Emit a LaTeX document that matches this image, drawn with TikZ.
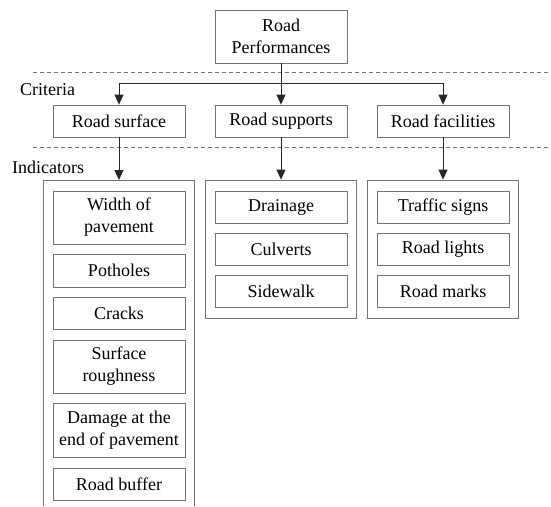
\documentclass[tikz,border=0pt]{standalone}
\usepackage{fontspec}
\setmainfont{Liberation Serif}
\usetikzlibrary{arrows.meta}
\tikzset{
 mytext/.style={font=\fontsize{18}{22}\selectfont},
 mybox/.style={mytext,draw=black!55,line width=0.8pt,minimum width=132pt,inner sep=0pt,align=center},
 mygroup/.style={draw=black!55,line width=0.8pt,minimum width=151pt,inner sep=0pt},
 myarrow/.style={draw=black!85,line width=0.8pt,-{Triangle[length=10pt,width=9pt]}},
 mydash/.style={draw=black!55,line width=0.8pt,dash pattern=on 4pt off 3pt}
}
\begin{document}
\begin{tikzpicture}[x=1pt,y=-1pt]
 \useasboundingbox (0,0) rectangle (551,506);
 % levels
 \draw[mydash] (33,72) -- (551,72);
 \draw[mydash] (33,147) -- (551,147);
 \node[mytext,anchor=west,inner sep=0pt] (crit) at (20,90) {Criteria};
 \node[mytext,anchor=west,inner sep=0pt] (ind) at (12,167) {Indicators};
 % goal and criteria
 \node[mybox,minimum height=53pt] (perf) at (281,36.5) {Road\\Performances};
 \node[mybox,minimum height=32pt] (surf) at (119,121) {Road surface};
 \node[mybox,minimum height=32pt] (sup) at (281,121) {Road supports};
 \node[mybox,minimum height=32pt] (fac) at (443,121) {Road facilities};
 \coordinate (fork) at (281,83);
 \draw[myarrow] (perf) -- (sup);
 \draw[myarrow] (fork) -| (surf);
 \draw[myarrow] (fork) -| (fac);
 % indicator groups
 \draw[draw=black!55,line width=0.8pt] (43,506) -- (43,180) -- (194,180) -- (194,506);
 \coordinate (gsurf) at (119,180);
 \node[mygroup,minimum height=138pt] (gsup) at (281,249) {};
 \node[mygroup,minimum height=138pt] (gfac) at (443,249) {};
 \draw[myarrow] (surf) -- (gsurf);
 \draw[myarrow] (sup) -- (gsup);
 \draw[myarrow] (fac) -- (gfac);
 % indicators
 \foreach \n/\y/\h/\t in {wid/217.5/53/{Width of\\pavement},pot/270.5/33/Potholes,
   cra/313/32/Cracks,rou/366.5/53/{Surface\\roughness},
   dam/430/54/{Damage at the\\end of pavement},buf/484/32/{Road buffer}}{
     \node[mybox,minimum height=\h pt] (\n) at (119,\y) {\t};
 }
 \foreach \n/\y/\t in {dra/207/Drainage,cul/249/Culverts,sid/291.5/Sidewalk}{
     \node[mybox,minimum height=32pt] (\n) at (281,\y) {\t};
 }
 \foreach \n/\y/\t in {tra/207/{Traffic signs},lig/249/{Road lights},mar/291.5/{Road marks}}{
     \node[mybox,minimum height=32pt] (\n) at (443,\y) {\t};
 }
\end{tikzpicture}
\end{document}
